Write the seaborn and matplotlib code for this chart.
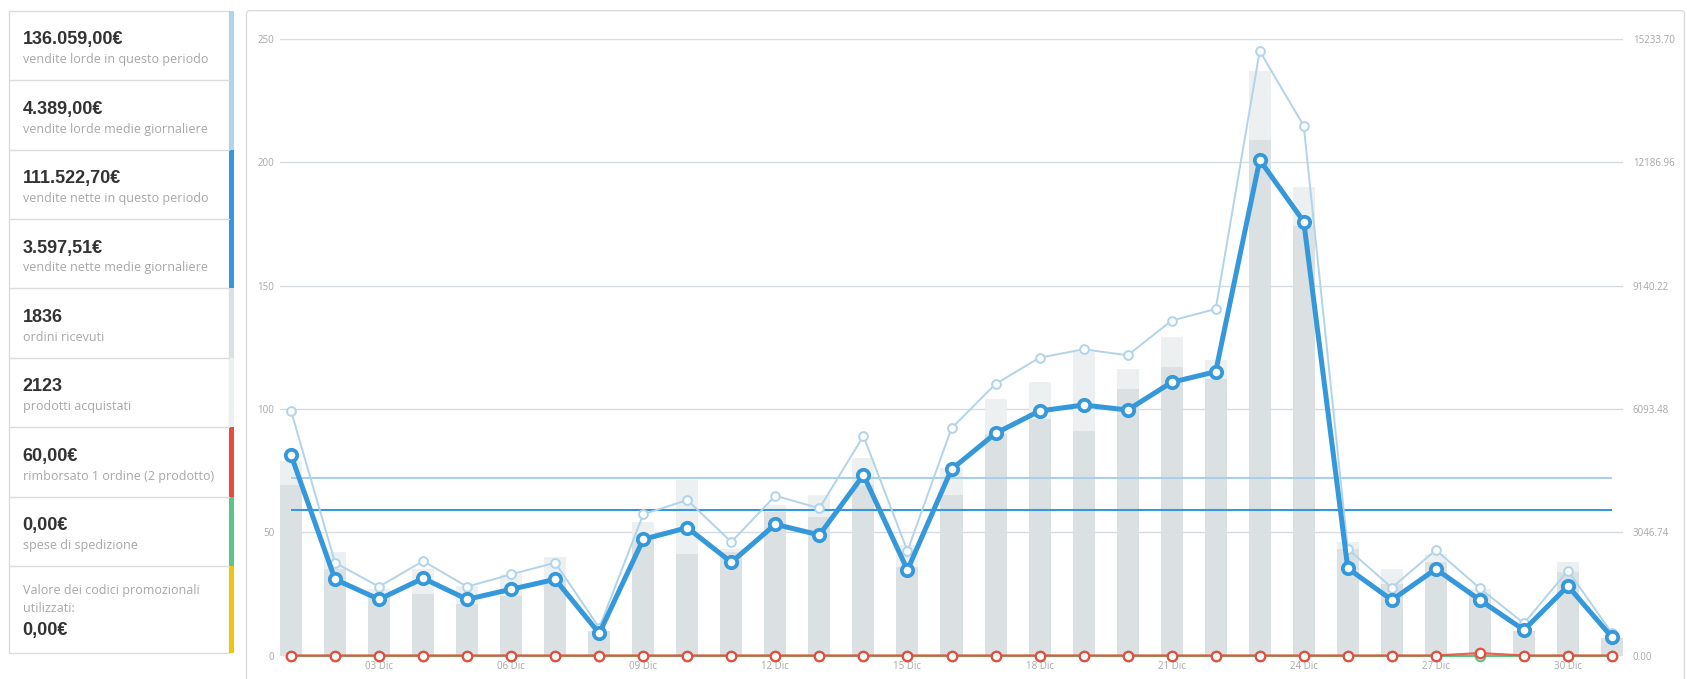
import numpy as np
import pandas as pd
import seaborn as sns
import matplotlib.pyplot as plt
from matplotlib.patches import Rectangle, FancyBboxPatch
from matplotlib.ticker import FormatStrFormatter

# giorni di dicembre
days = list(range(1, 32))
tick_days = [3, 6, 9, 12, 15, 18, 21, 24, 27, 30]
tick_labels = ["%02d Dic" % d for d in tick_days]

# ordini e prodotti per giorno (barre, asse sinistro)
orders = [69, 35, 24, 25, 21, 24, 31, 10, 47, 41, 42, 58, 56, 69, 36, 65,
          90, 96, 91, 108, 117, 112, 209, 174, 43, 29, 38, 25, 10, 34, 7]
items = [79, 42, 27, 35, 28, 33, 40, 10, 54, 71, 43, 61, 65, 80, 45, 76,
         104, 111, 123, 116, 129, 120, 237, 190, 46, 35, 41, 27, 10, 38, 7]

# vendite in euro (linee, asse destro)
gross = [6049, 2293, 1700, 2335, 1700, 2006, 2293, 687, 3489, 3842, 2805,
         3949, 3637, 5424, 2582, 5614, 6709, 7359, 7566, 7418, 8276, 8562,
         14937, 13084, 2632, 1675, 2607, 1660, 795, 2096, 549]
net = [4954, 1882, 1388, 1907, 1388, 1636, 1882, 548, 2871, 3158, 2303,
       3242, 2978, 4460, 2113, 4601, 5490, 6042, 6190, 6066, 6751, 7013,
       12244, 10720, 2154, 1371, 2137, 1371, 630, 1717, 450]
refunds = [0] * 27 + [60] + [0] * 3
shipping = [0] * 31
coupons = [0] * 31

avg_gross = 4389.00
avg_net = 3597.51
count_max = 250
money_max = 15233.70

# riquadri del pannello a sinistra
panel_values = ["136.059,00€", "4.389,00€", "111.522,70€", "3.597,51€",
                "1836", "2123", "60,00€", "0,00€"]
panel_labels = ["vendite lorde in questo periodo", "vendite lorde medie giornaliere",
                "vendite nette in questo periodo", "vendite nette medie giornaliere",
                "ordini ricevuti", "prodotti acquistati",
                "rimborsato 1 ordine (2 prodotto)", "spese di spedizione"]
coupon_label = ["Valore dei codici promozionali", "utilizzati:"]
coupon_value = "0,00€"

c_gross = "#b1d4ea"
c_net = "#3498db"
c_orders = "#dbe1e3"
c_items = "#ecf0f1"
c_refund = "#e74c3c"
c_ship = "#5cc488"
c_coupon = "#f1c40f"
strip_colors = [c_gross, c_gross, c_net, c_net, c_orders, c_items,
                c_refund, c_ship, c_coupon]

W, H = 1687, 679
sns.set_theme(style="white")
plt.rcParams['font.family'] = ['Open Sans', 'DejaVu Sans']

fig = plt.figure(figsize=(W / 100, H / 100), dpi=100)

# livello di sfondo in pixel per pannello e cornice
bg = fig.add_axes([0, 0, 1, 1], zorder=-1)
bg.set_xlim(0, W)
bg.set_ylim(H, 0)
bg.axis("off")

border = "#dcdcdc"
top, box_h = 10.7, 69.4
tops = [top + i * box_h for i in range(9)] + [653.3]
bg.add_patch(Rectangle((9.5, top), 220, tops[-1] - top, fill=False,
                       ec=border, lw=1))
for i in range(9):
    y0, y1 = tops[i], tops[i + 1]
    if i > 0:
        bg.plot([9.5, 229.5], [y0, y0], color=border, lw=1)
    bg.add_patch(Rectangle((229.3, y0), 4.5, y1 - y0, fc=strip_colors[i], ec="none"))
    if i < 8:
        bg.text(22.7, y0 + 33.6, panel_values[i], fontsize=13, fontweight="bold",
                family="Liberation Sans", color="#333333", va="baseline")
        bg.text(22.7, y0 + 52.6, panel_labels[i], fontsize=9, color="#a8a8a8",
                va="baseline")
y0 = tops[8]
bg.text(22.7, y0 + 28, coupon_label[0], fontsize=9, color="#a8a8a8", va="baseline")
bg.text(22.7, y0 + 46.4, coupon_label[1], fontsize=9, color="#a8a8a8", va="baseline")
bg.text(22.7, y0 + 68.7, coupon_value, fontsize=13, fontweight="bold",
        family="Liberation Sans", color="#333333", va="baseline")

# cornice del grafico
bg.add_patch(FancyBboxPatch((246.5, 10.7), 1438, 700, boxstyle="round,pad=0,rounding_size=3",
                            fill=False, ec=border, lw=1))

# grafico
ax = fig.add_axes([280 / W, 1 - 655.5 / H, (1623 - 280) / W, (655.5 - 39) / H])
ax.patch.set_alpha(0)

df = pd.DataFrame({"day": days, "orders": orders, "items": items})
sns.barplot(data=df, x="day", y="items", color=c_items, width=0.5, saturation=1,
            errorbar=None, linewidth=0, ax=ax)
sns.barplot(data=df, x="day", y="orders", color=c_orders, width=0.5, saturation=1,
            errorbar=None, linewidth=0, ax=ax)

ax.set_xlim(-0.25, 30.25)
ax.set_ylim(0, count_max)
ax.set_yticks(range(0, count_max + 1, 50))
ax.yaxis.grid(True, color="#d5dbde", lw=1)
ax.xaxis.grid(False)
ax.set_axisbelow(True)
ax.set_xticks([d - 1 for d in tick_days])
ax.set_xticklabels(tick_labels)
ax.tick_params(length=0, labelsize=7, colors="#a8a8a8")
ax.tick_params(axis="y", pad=4)
ax.tick_params(axis="x", pad=4)
ax.set_xlabel("")
ax.set_ylabel("")
for s in ax.spines.values():
    s.set_visible(False)

ax2 = ax.twinx()
ax2.set_ylim(0, money_max)
ax2.set_yticks(np.linspace(0, money_max, 6))
ax2.yaxis.set_major_formatter(FormatStrFormatter("%.2f"))
ax2.tick_params(length=0, labelsize=7, colors="#a8a8a8", pad=7)
ax2.grid(False)
for s in ax2.spines.values():
    s.set_visible(False)

pos = np.arange(31)
ax2.hlines([avg_gross], 0, 30, color="#a9cfe9", lw=1.5)
ax2.hlines([avg_net], 0, 30, color=c_net, lw=1.5)

sns.lineplot(x=pos, y=coupons, color=c_coupon, lw=1.6, ax=ax2)
sns.lineplot(x=pos, y=shipping, color=c_ship, lw=1.6, marker="o", ms=6.8,
             mfc="white", mec=c_ship, mew=1.5, ax=ax2, clip_on=False)
sns.lineplot(x=pos, y=refunds, color=c_refund, lw=1.6, alpha=0.85, ax=ax2,
             clip_on=False)
sns.lineplot(x=pos, y=refunds, color=c_refund, lw=0, marker="o", ms=6.8,
             mfc="white", mec=c_refund, mew=1.6, ax=ax2, clip_on=False)

sns.lineplot(x=pos, y=gross, color=c_gross, lw=1.4, marker="o", ms=6.3,
             mfc="white", mec=c_gross, mew=1.4, ax=ax2, clip_on=False)
sns.lineplot(x=pos, y=net, color=c_net, lw=3.6, marker="o", ms=8.2,
             mfc="white", mec=c_net, mew=2.7, ax=ax2, clip_on=False)

ax2.set_xlim(-0.25, 30.25)
ax2.set_xlabel("")
ax2.set_ylabel("")

fig.savefig("out.png", dpi=100, facecolor="white")
